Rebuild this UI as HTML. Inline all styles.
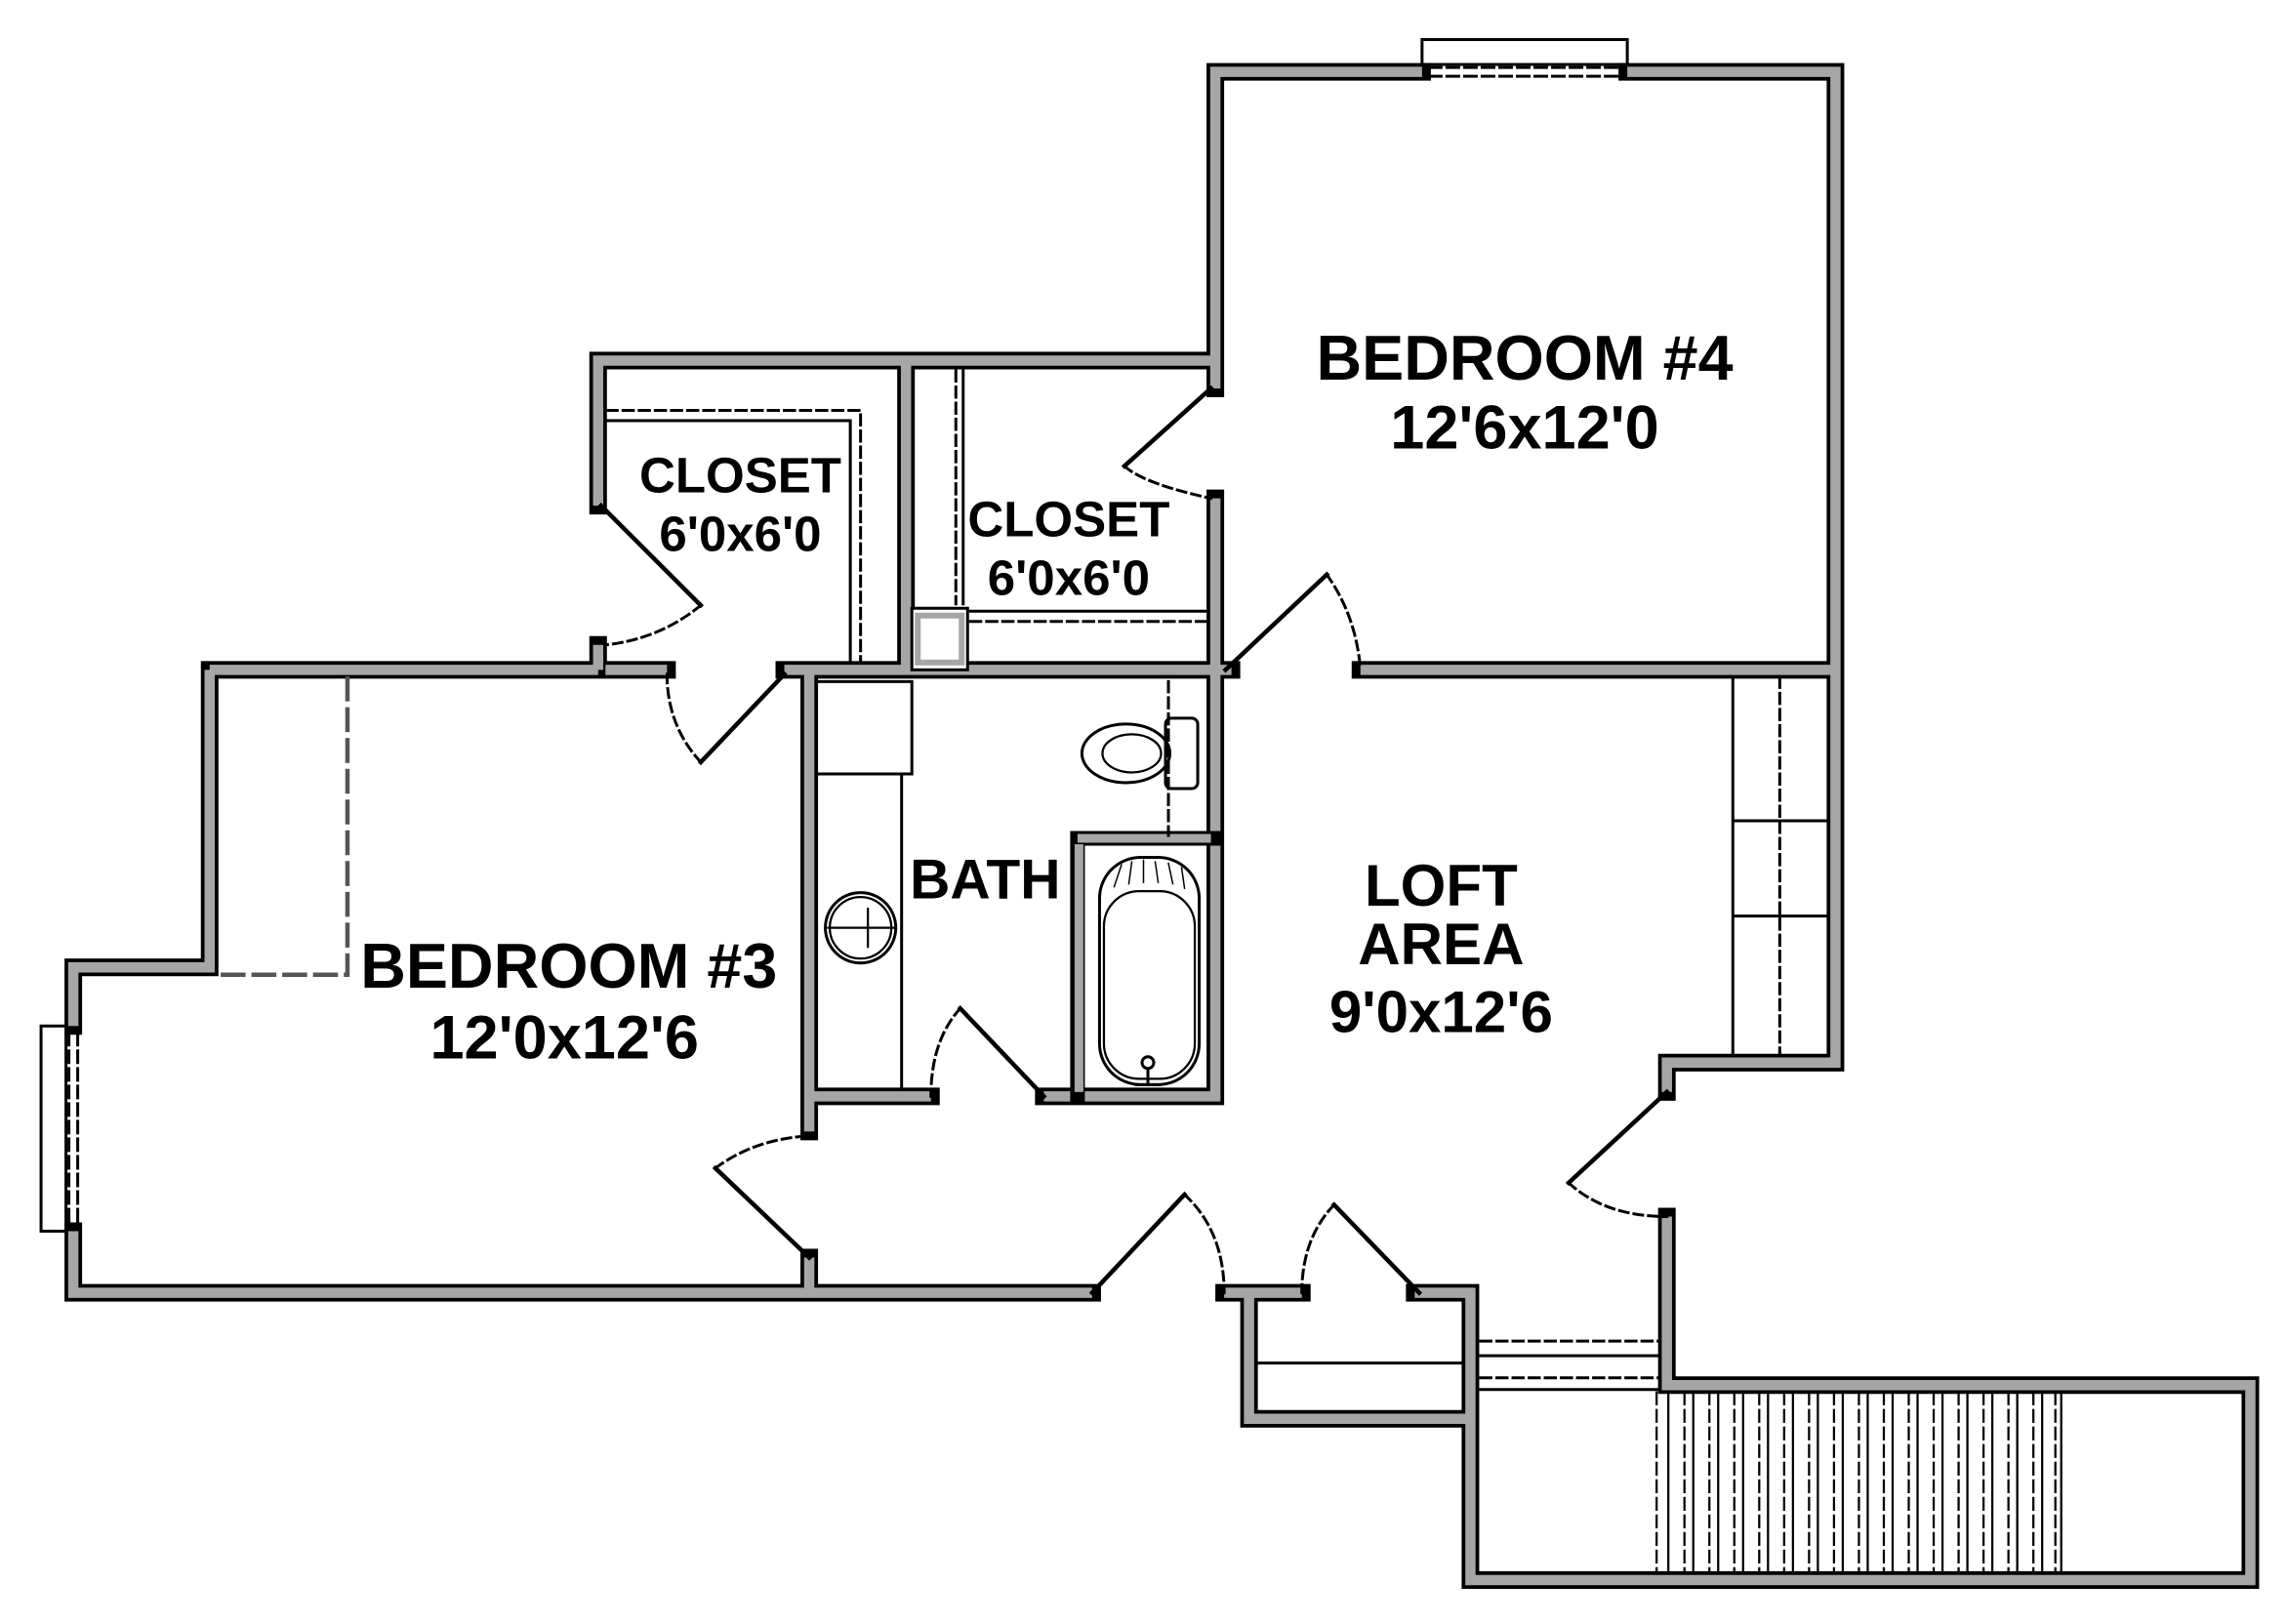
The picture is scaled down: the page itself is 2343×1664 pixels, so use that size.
<!DOCTYPE html>
<html><head><meta charset="utf-8"><style>
html,body{margin:0;padding:0;background:#fff}
svg{display:block}
text{font-family:"Liberation Sans",sans-serif;font-weight:bold;fill:#000}
</style></head><body>
<svg width="2343" height="1664" viewBox="0 0 1560 1108" preserveAspectRatio="none" xmlns="http://www.w3.org/2000/svg">
<rect width="1560" height="1108" fill="#fff"/>
<g fill="none" stroke-linejoin="miter" stroke-linecap="square">
<g id="w" >
<path stroke="#000" stroke-width="12" d="
M970 49 H829 V265 M829 340 V457
M1110 49 H1252 V725 H1137 V745 M1137 830 V945 H1535 V1078 H1003 V882 H965
M928 457 H1252
M408 345 V246 H829
M618 246 V457
M143 457 H408 M455 457 H413 M535 457 H840
M408 440 V457
M143 457 V660 H50 V700 M50 840 V882 H745
M835 882 H888 M852 882 V968 H1003
M552 457 V772 M552 858 V882
M552 748 H635 M712 748 H829 V457
M1003 935 V1078
"/>
<path stroke="#a6a6a6" stroke-width="7" stroke-linecap="butt" d="
M970 49 H829 V265 M829 340 V457
M1110 49 H1252 V725 H1137 V745 M1137 830 V945 H1535 V1078 H1003 V882 H965
M928 457 H1252
M408 345 V246 H829
M618 246 V457
M143 457 H408 M455 457 H413 M535 457 H840
M408 440 V457
M143 457 V660 H50 V700 M50 840 V882 H745
M835 882 H888 M852 882 V968 H1003
M552 457 V772 M552 858 V882
M552 748 H635 M712 748 H829 V457
"/>
</g>
<rect x="622" y="415" width="38" height="42" stroke="#000" stroke-width="2" fill="#fff"/>
<rect x="626" y="420" width="30" height="32" stroke="#a6a6a6" stroke-width="4"/>
<path stroke="#000" stroke-width="10" d="M735 572 H829 M735 578 V748"/>
<path stroke="#a6a6a6" stroke-width="6" stroke-linecap="butt" d="M735 572 H826 M736 576 V745"/>
<rect x="970" y="27" width="140" height="17" stroke="#000" stroke-width="2"/>
<path stroke="#000" stroke-width="2" stroke-dasharray="8,4" d="M975 46 H1105 M975 52 H1105"/>
<rect x="28" y="700" width="17" height="140" stroke="#000" stroke-width="2"/>
<path stroke="#000" stroke-width="2" stroke-dasharray="8,4" d="M47 705 V835 M53 705 V835"/>
<path stroke="#000" stroke-width="2" d="M414 287 H580 V452"/>
<path stroke="#000" stroke-width="2" stroke-dasharray="7,4" d="M414 280 H587 V452"/>
<path stroke="#000" stroke-width="2" d="M657 253 V412"/>
<path stroke="#000" stroke-width="2" stroke-dasharray="7,4" d="M652 253 V412"/>
<path stroke="#000" stroke-width="2" d="M662 417 H822"/>
<path stroke="#000" stroke-width="2" stroke-dasharray="7,4" d="M662 424 H822"/>
<path stroke="#555" stroke-width="3" stroke-dasharray="14,7" d="M237 463 V665 H150"/>
<path stroke="#000" stroke-width="2" d="M558 465 H622 V528 H558 M615 528 V743"/>
<circle cx="587" cy="633" r="24" stroke="#000" stroke-width="2" stroke-dasharray="3,2"/>
<circle cx="587" cy="633" r="21" stroke="#000" stroke-width="1.5"/>
<path stroke="#000" stroke-width="1.5" d="M565 633 H610 M592 620 V646"/>
<path stroke="#000" stroke-width="2" stroke-dasharray="7,4" d="M797 465 V570"/>
<rect x="795" y="490" width="22" height="48" rx="4" stroke="#000" stroke-width="2"/>
<ellipse cx="768" cy="514" rx="30" ry="20" stroke="#000" stroke-width="2"/>
<ellipse cx="772" cy="514" rx="20" ry="13" stroke="#000" stroke-width="1.5"/>
<rect x="750" y="585" width="68" height="155" rx="28" stroke="#000" stroke-width="2"/>
<rect x="753" y="608" width="62" height="128" rx="24" stroke="#000" stroke-width="1.5"/>
<path stroke="#000" stroke-width="1" d="M760 605 L765 590 M770 603 L772 588 M780 602 L780 587 M790 602 L788 588 M800 603 L797 589 M808 606 L806 592"/>
<circle cx="783" cy="725" r="4" stroke="#000" stroke-width="2"/>
<path stroke="#000" stroke-width="2" d="M783 729 V740 M775 740 H791"/>
<path stroke="#000" stroke-width="2" d="M1182 462 V720 M1182 560 H1247 M1182 625 H1247"/>
<path stroke="#000" stroke-width="2" stroke-dasharray="7,4" d="M1214 462 V720"/>
<path stroke="#000" stroke-width="2" d="M858 930 H998 M1010 925 H1132 M1010 948 H1132"/>
<path stroke="#000" stroke-width="2" stroke-dasharray="7,4" d="M1010 915 H1132 M1010 940 H1132"/>
<g stroke="#000" stroke-width="1.5">
<path d="M1138 950 V1072 M1155 950 V1072 M1172 950 V1072 M1189 950 V1072 M1206 950 V1072 M1223 950 V1072 M1240 950 V1072 M1257 950 V1072 M1274 950 V1072 M1291 950 V1072 M1308 950 V1072 M1325 950 V1072 M1342 950 V1072 M1359 950 V1072 M1376 950 V1072 M1393 950 V1072 M1406 950 V1072"/>
<path stroke-dasharray="8,4" d="M1130 950 V1072 M1149 950 V1072 M1166 950 V1072 M1183 950 V1072 M1200 950 V1072 M1217 950 V1072 M1234 950 V1072 M1251 950 V1072 M1268 950 V1072 M1285 950 V1072 M1302 950 V1072 M1319 950 V1072 M1336 950 V1072 M1353 950 V1072 M1370 950 V1072 M1387 950 V1072 M1402 950 V1072"/>
</g>
<g stroke="#000" stroke-width="3">
<path d="M826 265 L767 318 M836 457 L905 392 M410 345 L478 413 M535 460 L478 520 M655 688 L712 748 M552 858 L488 797 M745 882 L808 815 M968 882 L910 822 M1137 745 L1070 807"/>
</g>
<g stroke="#000" stroke-width="2" stroke-dasharray="6,4">
<path d="M905 392 Q925 420 928 457 M478 413 Q450 436 413 440 M478 520 Q455 495 455 460 M655 688 Q635 710 635 748 M488 797 Q515 777 552 775 M808 815 Q835 840 835 882 M910 822 Q888 845 888 882 M1070 807 Q1095 830 1137 830 M767 318 Q780 330 826 340"/>
</g>
</g>
<g font-size="40" text-anchor="middle">
<text x="1040" y="259" font-size="43">BEDROOM #4</text>
<text x="1040" y="306" font-size="42" font-weight="normal">12'6x12'0</text>
<text x="505" y="336" font-size="34">CLOSET</text>
<text x="505" y="376" font-size="34" font-weight="normal">6'0x6'0</text>
<text x="729" y="366" font-size="34">CLOSET</text>
<text x="729" y="406" font-size="34" font-weight="normal">6'0x6'0</text>
<text x="672" y="613" font-size="38">BATH</text>
<text x="388" y="674" font-size="43">BEDROOM #3</text>
<text x="385" y="722" font-size="42" font-weight="normal">12'0x12'6</text>
<text x="983" y="618">LOFT</text>
<text x="983" y="658">AREA</text>
<text x="983" y="704" font-weight="normal">9'0x12'6</text>
</g>
</svg>
</body></html>
